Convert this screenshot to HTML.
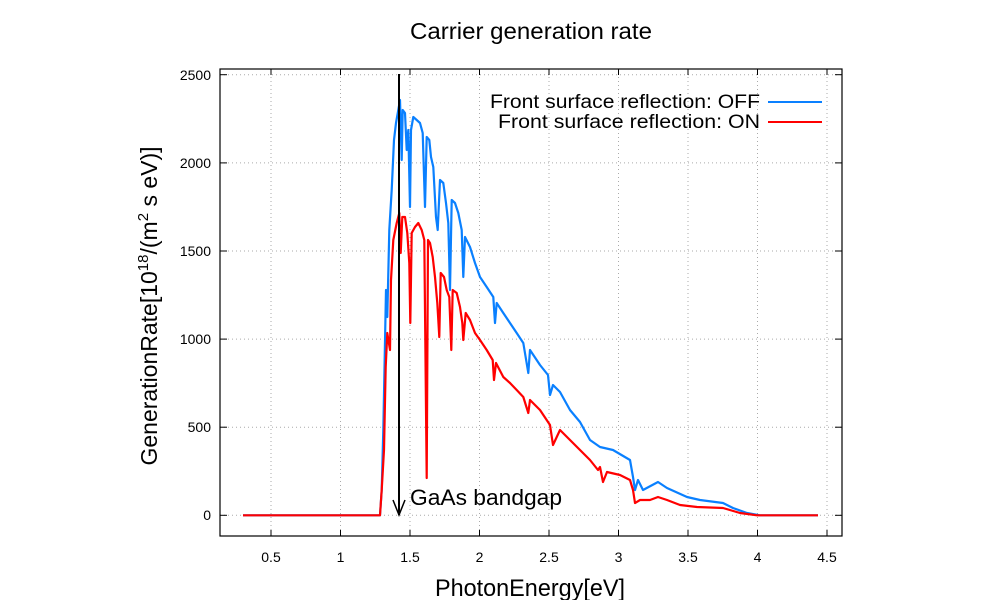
<!DOCTYPE html>
<html><head><meta charset="utf-8"><style>body{margin:0;background:#fff}svg{display:block}text{font-family:"Liberation Sans","DejaVu Sans",sans-serif}</style></head><body>
<svg width="1000" height="600" viewBox="0 0 1000 600" xmlns="http://www.w3.org/2000/svg">
<rect width="1000" height="600" fill="#fff"/>
<g stroke="#aaa" stroke-width="1" stroke-dasharray="1,3">
<line x1="271" y1="69" x2="271" y2="536"/><line x1="340.5" y1="69" x2="340.5" y2="536"/><line x1="410" y1="69" x2="410" y2="536"/><line x1="479.5" y1="69" x2="479.5" y2="536"/><line x1="549" y1="69" x2="549" y2="536"/><line x1="618.5" y1="69" x2="618.5" y2="536"/><line x1="688" y1="69" x2="688" y2="536"/><line x1="757.5" y1="69" x2="757.5" y2="536"/><line x1="827" y1="69" x2="827" y2="536"/>
<line x1="220" y1="515.3" x2="842" y2="515.3"/><line x1="220" y1="427.2" x2="842" y2="427.2"/><line x1="220" y1="339.1" x2="842" y2="339.1"/><line x1="220" y1="251" x2="842" y2="251"/><line x1="220" y1="162.9" x2="842" y2="162.9"/><line x1="220" y1="74.7" x2="842" y2="74.7"/>
</g>
<g stroke="#000" stroke-width="1">
<line x1="271" y1="536" x2="271" y2="530"/><line x1="340.5" y1="536" x2="340.5" y2="530"/><line x1="410" y1="536" x2="410" y2="530"/><line x1="479.5" y1="536" x2="479.5" y2="530"/><line x1="549" y1="536" x2="549" y2="530"/><line x1="618.5" y1="536" x2="618.5" y2="530"/><line x1="688" y1="536" x2="688" y2="530"/><line x1="757.5" y1="536" x2="757.5" y2="530"/><line x1="827" y1="536" x2="827" y2="530"/>
<line x1="271" y1="69" x2="271" y2="75"/><line x1="340.5" y1="69" x2="340.5" y2="75"/><line x1="410" y1="69" x2="410" y2="75"/><line x1="479.5" y1="69" x2="479.5" y2="75"/><line x1="549" y1="69" x2="549" y2="75"/><line x1="618.5" y1="69" x2="618.5" y2="75"/><line x1="688" y1="69" x2="688" y2="75"/><line x1="757.5" y1="69" x2="757.5" y2="75"/><line x1="827" y1="69" x2="827" y2="75"/>
<line x1="220" y1="515.3" x2="227" y2="515.3"/><line x1="220" y1="427.2" x2="227" y2="427.2"/><line x1="220" y1="339.1" x2="227" y2="339.1"/><line x1="220" y1="251" x2="227" y2="251"/><line x1="220" y1="162.9" x2="227" y2="162.9"/><line x1="220" y1="74.7" x2="227" y2="74.7"/>
<line x1="842" y1="515.3" x2="835" y2="515.3"/><line x1="842" y1="427.2" x2="835" y2="427.2"/><line x1="842" y1="339.1" x2="835" y2="339.1"/><line x1="842" y1="251" x2="835" y2="251"/><line x1="842" y1="162.9" x2="835" y2="162.9"/><line x1="842" y1="74.7" x2="835" y2="74.7"/>
</g>
<rect x="220" y="69" width="622" height="467" fill="none" stroke="#000" stroke-width="1.2"/>
<g font-size="14" text-anchor="end" fill="#000">
<text x="211" y="520">0</text><text x="211" y="432">500</text><text x="211" y="344">1000</text><text x="211" y="256">1500</text><text x="211" y="168">2000</text><text x="211" y="80">2500</text>
</g>
<g font-size="14" text-anchor="middle" fill="#000">
<text x="271" y="562">0.5</text><text x="340.5" y="562">1</text><text x="410" y="562">1.5</text><text x="479.5" y="562">2</text><text x="549" y="562">2.5</text><text x="618.5" y="562">3</text><text x="688" y="562">3.5</text><text x="757.5" y="562">4</text><text x="827" y="562">4.5</text>
</g>
<text x="531" y="39" font-size="23" text-anchor="middle" textLength="242" lengthAdjust="spacingAndGlyphs">Carrier generation rate</text>
<text x="530" y="596" font-size="24" text-anchor="middle" textLength="190" lengthAdjust="spacingAndGlyphs">PhotonEnergy[eV]</text>
<text transform="translate(157,306) rotate(-90)" font-size="23" text-anchor="middle">GenerationRate[10<tspan font-size="15" dy="-9">18</tspan><tspan dy="9">/(m</tspan><tspan font-size="15" dy="-9">2</tspan><tspan dy="9"> s eV)]</tspan></text>
<polyline fill="none" stroke="#0a80ff" stroke-width="2.2" stroke-linejoin="round" points="243,515.3 380,515.3 381.7,490 383.3,430 386,290 387.3,317 389.3,230 391.7,190 394,140 396,123 398.3,110 400,100 401.7,160 402.7,110 405,113 406.7,150 408.3,130 410,207 411,130 413.3,117 416.7,120 420,123 422.7,133 425,207 426.7,137 429.3,140 431,157 433.3,167 436,217 437.7,230 440,180 443.3,183 446,203 448.3,223 450,290 451.7,200 455,203 458.3,213 461.7,230 463.3,277 465,237 470,247 475,263 480,277 486.7,287 493.3,297 495,323 496.7,303 503.3,313 510,323 516.7,333 523.3,343 528.3,373 530,350 540,365 548,375 550,395 553,385 560,392 570,410 580,422 590,440 600,447 613,450 630,460 633,477 635,490 638,480 643,490 658,482 667,488 687,497 700,500 723,503 733,508 747,513 760,515.3 818,515.3"/>
<polyline fill="none" stroke="#ff0000" stroke-width="2.2" stroke-linejoin="round" points="243,515.3 380,515.3 381.7,490 384,450 385.7,367 387.3,333 390,350 391,280 393.3,240 396.7,223 399.3,213 400.7,253 402.3,217 405,217 407.3,233 409.3,263 410.3,323 411.7,233 415,227 418.3,223 421.7,230 424.3,240 426.7,478 428,240 430,243 432.7,257 435,277 437.3,303 439.3,337 440.7,273 444,277 446.7,290 449.3,297 451.3,350 452.7,290 456.7,293 460,307 462.3,323 463.3,340 465.7,313 470,320 475,333 480,340 486.7,350 492.7,360 494,380 496,363 503.3,377 510,383 516.7,390 523.3,397 528.3,413 530,400 540,410 550,425 553,445 560,430 570,440 580,450 590,460 598,470 600,467 603,482 607,472 620,475 630,480 633,490 635,503 640,500 650,500 658,497 667,500 680,505 697,507 723,508 740,513 757,515.3 818,515.3"/>
<line x1="399" y1="74" x2="399" y2="515" stroke="#000" stroke-width="2"/>
<polyline points="393,500 399,515 405,500" fill="none" stroke="#000" stroke-width="1.5"/>
<text x="410" y="505" font-size="22" textLength="152" lengthAdjust="spacingAndGlyphs">GaAs bandgap</text>
<g font-size="19" text-anchor="end"><text x="760" y="108" textLength="270" lengthAdjust="spacingAndGlyphs">Front surface reflection: OFF</text><text x="760" y="128" textLength="262" lengthAdjust="spacingAndGlyphs">Front surface reflection: ON</text></g>
<line x1="768" y1="102" x2="822" y2="102" stroke="#0a80ff" stroke-width="2"/>
<line x1="768" y1="122" x2="822" y2="122" stroke="#ff0000" stroke-width="2"/>
</svg>
</body></html>
